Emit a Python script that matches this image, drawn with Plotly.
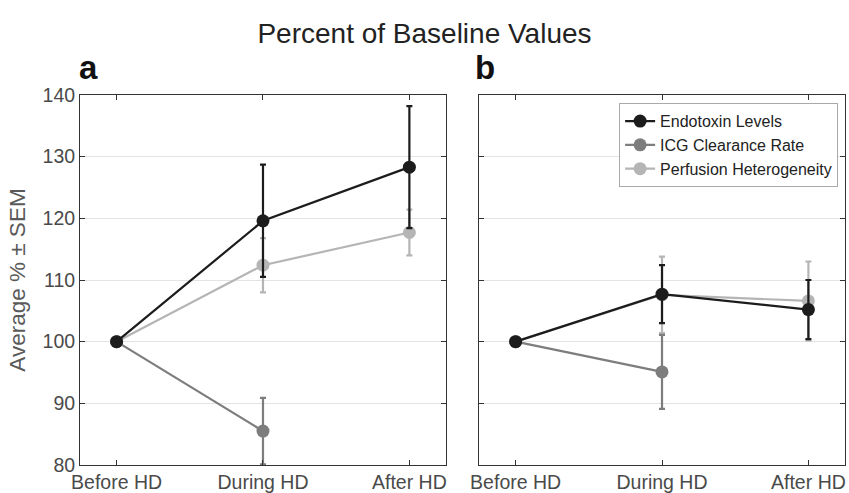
import plotly.graph_objects as go

categories = ["Before HD", "During HD", "After HD"]
series_names = ["Endotoxin Levels", "ICG Clearance Rate", "Perfusion Heterogeneity"]

# Panel a
a_endotoxin = [100, 119.6, 128.3]
a_endotoxin_err = [0, 9.1, 9.9]
a_icg = [100, 85.5, None]
a_icg_err = [0, 5.4, 0]
a_perf = [100, 112.4, 117.7]
a_perf_err = [0, 4.4, 3.7]

# Panel b
b_endotoxin = [100, 107.7, 105.2]
b_endotoxin_err = [0, 4.7, 4.8]
b_icg = [100, 95.1, None]
b_icg_err = [0, 6.0, 0]
b_perf = [100, 107.6, 106.6]
b_perf_err = [0, 6.2, 6.4]

y_ticks = [80, 90, 100, 110, 120, 130, 140]

colors = {"Endotoxin Levels": "#1c1c1c", "ICG Clearance Rate": "#7d7d7d",
          "Perfusion Heterogeneity": "#b5b5b5"}

FONT = "Liberation Sans, Arial, Helvetica"

fig = go.Figure()
xidx = list(range(len(categories)))

def add(panel, name, vals, errs, rank, show):
    c = colors[name]
    fig.add_trace(go.Scatter(
        x=xidx, y=vals, name=name, mode="lines+markers",
        line=dict(color=c, width=2.2),
        marker=dict(color=c, size=13),
        error_y=dict(type="data", array=errs, visible=True, color=c, thickness=2.2, width=3),
        xaxis="x" if panel == "a" else "x2", yaxis="y" if panel == "a" else "y2",
        showlegend=show, legendrank=rank, connectgaps=False))

for panel, data in [("a", [(a_perf, a_perf_err), (a_icg, a_icg_err), (a_endotoxin, a_endotoxin_err)]),
                    ("b", [(b_perf, b_perf_err), (b_icg, b_icg_err), (b_endotoxin, b_endotoxin_err)])]:
    names = ["Perfusion Heterogeneity", "ICG Clearance Rate", "Endotoxin Levels"]
    ranks = [3, 2, 1]
    for (v, e), n, r in zip(data, names, ranks):
        add(panel, n, v, e, r, panel == "b")

axis_common = dict(showline=True, linecolor="#333333", linewidth=1, mirror="ticks",
                   ticks="inside", ticklen=5, tickcolor="#333333",
                   tickfont=dict(family=FONT, size=19.5, color="#4a4a4a"),
                   zeroline=False, automargin=False)

xa = dict(axis_common, range=[-0.25, 2.25], tickmode="array", tickvals=xidx,
          ticktext=categories, showgrid=False)
ya = dict(axis_common, range=[80, 140], tickmode="array", tickvals=y_ticks,
          showgrid=True, gridcolor="#e3e3e3", gridwidth=1)

fig.update_layout(
    width=849, height=493,
    margin=dict(l=80, r=4, t=95, b=28),
    plot_bgcolor="white", paper_bgcolor="white",
    xaxis=dict(xa, domain=[0, 0.4784]),
    xaxis2=dict(xa, domain=[0.5216, 1], anchor="y2"),
    yaxis=dict(ya, title=dict(text="Average % ± SEM", standoff=10,
                              font=dict(family=FONT, size=22.5, color="#5a5a5a"))),
    yaxis2=dict(ya, anchor="x2", showticklabels=False),
    legend=dict(x=0.991, y=0.978, xanchor="right", yanchor="top",
                bgcolor="white", bordercolor="#aaaaaa", borderwidth=1,
                font=dict(family=FONT, size=16, color="#222222"),
                tracegroupgap=0, itemwidth=30),
    showlegend=True,
    title=dict(text="Percent of Baseline Values", x=0.5, xanchor="center", y=0.933, yanchor="middle",
               font=dict(family=FONT, size=28, color="#222222")),
    annotations=[
        dict(text="<b>a</b>", xref="paper", yref="paper", x=0.0105, y=1.073, xanchor="center",
             yanchor="middle", showarrow=False,
             font=dict(family=FONT, size=33, color="#111111")),
        dict(text="<b>b</b>", xref="paper", yref="paper", x=0.529, y=1.073, xanchor="center",
             yanchor="middle", showarrow=False,
             font=dict(family=FONT, size=33, color="#111111")),
    ],
)

fig.write_html("out.html", config={"displayModeBar": False},
               post_script="document.body.style.margin='0';")
